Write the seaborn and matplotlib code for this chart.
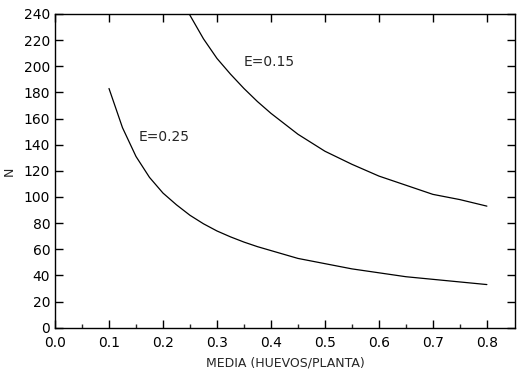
import numpy as np
import pandas as pd
import matplotlib
matplotlib.use("Agg")
import matplotlib.pyplot as plt
import seaborn as sns
from matplotlib.ticker import MultipleLocator, FixedLocator

# Data (sample size N vs mean eggs per plant)
media = [0.100, 0.125, 0.150, 0.175, 0.200, 0.225, 0.250, 0.275, 0.300,
         0.325, 0.350, 0.375, 0.400, 0.450, 0.500, 0.550, 0.600, 0.650,
         0.700, 0.750, 0.800]
n_e015 = [500, 420, 364, 320, 286, 260, 239, 221, 206,
          194, 183, 173, 164, 148, 135, 125, 116, 109,
          102, 98, 93]
n_e025 = [183, 153, 131, 115, 103, 94, 86, 79.5, 74,
          69.5, 65.5, 62, 59, 53, 49, 45, 42, 39,
          37, 35, 33]

df = pd.DataFrame({
    "media": media * 2,
    "N": n_e015 + n_e025,
    "E": ["E=0.15"] * len(media) + ["E=0.25"] * len(media),
})

sns.set_style("ticks")
plt.rcParams["font.family"] = ["DejaVu Sans"]

fig = plt.figure(figsize=(5.26, 3.74), dpi=100)
ax = fig.add_axes([0.1046, 0.1238, 0.8744, 0.8388])

sns.lineplot(data=df, x="media", y="N", units="E", estimator=None,
             color="black", linewidth=0.9, ax=ax, legend=False)

ax.set_xlim(0, 0.852)
ax.set_ylim(0, 240)
ax.xaxis.set_minor_locator(FixedLocator([0.05, 0.15, 0.25, 0.35, 0.45,
                                         0.55, 0.65, 0.75]))
ax.yaxis.set_major_locator(MultipleLocator(20))
ax.set_xticks([0.0, 0.1, 0.2, 0.3, 0.4, 0.5, 0.6, 0.7, 0.8])
ax.set_xticklabels(["0.0", "0.1", "0.2", "0.3", "0.4", "0.5", "0.6", "0.7", "0.8"])

ax.tick_params(axis="both", which="major", direction="in", length=6,
               width=1, labelsize=10, colors="black", top=True, right=True)
ax.tick_params(axis="x", which="major", pad=6)
ax.tick_params(axis="x", which="minor", direction="in", length=3,
               width=1, top=False, bottom=True)
ax.tick_params(axis="y", which="minor", left=False, right=False)

for s in ax.spines.values():
    s.set_visible(True)
    s.set_linewidth(1)
    s.set_color("black")

ax.set_xlabel("MEDIA (HUEVOS/PLANTA)", fontsize=9, labelpad=5)
ax.set_ylabel("N", fontsize=9, labelpad=6)

ax.text(0.35, 203, "E=0.15", fontsize=10, va="center", ha="left")
ax.text(0.155, 146, "E=0.25", fontsize=10, va="center", ha="left")

fig.savefig("out.png", dpi=100)
